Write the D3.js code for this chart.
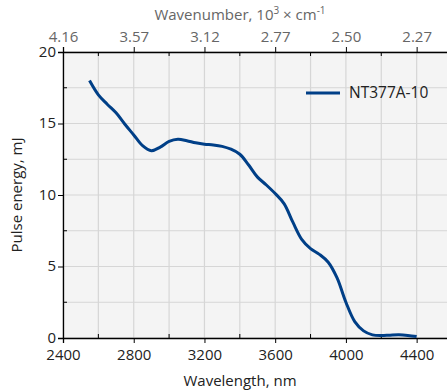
<!DOCTYPE html>
<html>
<head>
<meta charset="utf-8">
<script src="https://cdn.jsdelivr.net/npm/d3@7"></script>
<style>
  body { margin: 0; background: #fff; }
  text { font-family: "Open Sans", "Noto Sans", sans-serif; }
</style>
</head>
<body>
<div id="chart"></div>
<script>
// curve
let wavelength = [2550, 2600, 2650, 2700, 2750, 2800, 2850, 2900, 2950, 3000, 3050, 3100, 3150, 3200,
                  3250, 3300, 3350, 3400, 3450, 3500, 3550, 3600, 3650, 3700, 3750, 3800, 3850, 3900,
                  3950, 4000, 4050, 4100, 4150, 4200, 4250, 4300, 4350, 4400];
let energy = [18.0, 17.0, 16.35, 15.75, 14.95, 14.2, 13.45, 13.1, 13.35, 13.75, 13.9, 13.8, 13.65, 13.55,
              13.5, 13.4, 13.2, 12.85, 12.1, 11.25, 10.7, 10.1, 9.4, 8.1, 6.9, 6.25, 5.85, 5.3,
              4.2, 2.5, 1.15, 0.5, 0.22, 0.17, 0.2, 0.22, 0.18, 0.1];
let seriesName = "NT377A-10";
let xTicks = [2400, 2800, 3200, 3600, 4000, 4400];
let xMinor = [2600, 3000, 3400, 3800, 4200];
let yTicks = [0, 5, 10, 15, 20];
let yMinor = [2.5, 7.5, 12.5, 17.5];

let width = 447, height = 392;
let margin = {left: 63, top: 52, bottom: 338};

let svg = d3.select("#chart").append("svg")
    .attr("width", width)
    .attr("height", height);

let x = d3.scaleLinear().domain([2400, 4600]).range([margin.left, 452]);
let y = d3.scaleLinear().domain([0, 20]).range([margin.bottom, margin.top]);

// plot background
svg.append("rect")
    .attr("x", x(2400)).attr("y", y(20))
    .attr("width", x(4600) - x(2400)).attr("height", y(0) - y(20))
    .attr("fill", "#f4f4f4");

// grid
let grid = svg.append("g").attr("stroke", "#d6d6d6").attr("stroke-width", 1.2);
xTicks.concat(xMinor).forEach(function(v) {
    grid.append("line").attr("x1", x(v)).attr("x2", x(v)).attr("y1", y(0)).attr("y2", y(20));
});
yTicks.concat(yMinor).forEach(function(v) {
    grid.append("line").attr("x1", x(2400)).attr("x2", x(4600)).attr("y1", y(v)).attr("y2", y(v));
});

// axes
let bottomAxis = svg.append("g")
    .attr("transform", `translate(0, ${y(0)})`)
    .call(d3.axisBottom(x).tickValues(xTicks).tickSize(5).tickPadding(6).tickFormat(d3.format("d")));
bottomAxis.append("g").selectAll("line").data(xMinor).enter().append("line")
    .attr("x1", d => x(d)).attr("x2", d => x(d)).attr("y1", 0).attr("y2", -4).attr("stroke", "#000");

// wavenumber labels are truncated, not rounded (4.16, 3.12, 2.77)
let topAxis = svg.append("g")
    .attr("transform", `translate(0, ${y(20)})`)
    .call(d3.axisTop(x).tickValues(xTicks).tickSize(5).tickPadding(5)
        .tickFormat(function(d) { return (Math.floor(1e6 / d) / 100).toFixed(2); }));
topAxis.append("g").selectAll("line").data(xMinor).enter().append("line")
    .attr("x1", d => x(d)).attr("x2", d => x(d)).attr("y1", 0).attr("y2", 4).attr("stroke", "#000");

let leftAxis = svg.append("g")
    .attr("transform", `translate(${x(2400)}, 0)`)
    .call(d3.axisLeft(y).tickValues(yTicks).tickSize(5).tickPadding(2));
leftAxis.append("g").selectAll("line").data(yMinor).enter().append("line")
    .attr("y1", d => y(d)).attr("y2", d => y(d)).attr("x1", 0).attr("x2", 4).attr("stroke", "#000");

[bottomAxis, topAxis, leftAxis].forEach(function(a) {
    a.selectAll("text").style("font-size", "15px").style("font-family", "'Open Sans', sans-serif");
    a.select(".domain").attr("stroke-width", 1.3);
});
bottomAxis.selectAll(".tick text").attr("fill", "#222");
leftAxis.selectAll(".tick text").attr("fill", "#222").attr("dy", "0.28em");
topAxis.selectAll(".tick text").attr("fill", "#666");

// titles
svg.append("text")
    .attr("x", 240).attr("y", 386)
    .attr("text-anchor", "middle")
    .style("font-size", "15px").attr("fill", "#222")
    .text("Wavelength, nm");

svg.append("text")
    .attr("transform", `translate(22, 195) rotate(-90)`)
    .attr("text-anchor", "middle")
    .style("font-size", "15px").attr("fill", "#222")
    .text("Pulse energy, mJ");

let topTitle = svg.append("text")
    .attr("x", 240).attr("y", 20)
    .attr("text-anchor", "middle")
    .style("font-size", "15px").attr("fill", "#666");
topTitle.append("tspan").text("Wavenumber, 10");
topTitle.append("tspan").attr("dy", -6).style("font-size", "10px").text("3");
topTitle.append("tspan").attr("dy", 6).text(" \u00d7 cm");
topTitle.append("tspan").attr("dy", -6).style("font-size", "10px").text("-1");

// curve
let line = d3.line()
    .x(function(d, i) { return x(wavelength[i]); })
    .y(function(d) { return y(d); })
    .curve(d3.curveCatmullRom);

svg.append("path")
    .datum(energy)
    .attr("d", line)
    .attr("fill", "none")
    .attr("stroke", "#003f87")
    .attr("stroke-width", 3);

// legend
svg.append("line")
    .attr("x1", 306).attr("x2", 340).attr("y1", 93).attr("y2", 93)
    .attr("stroke", "#003f87").attr("stroke-width", 3);
svg.append("text")
    .attr("x", 349).attr("y", 98)
    .style("font-size", "15.5px").attr("fill", "#222")
    .text(seriesName);
</script>
</body>
</html>
